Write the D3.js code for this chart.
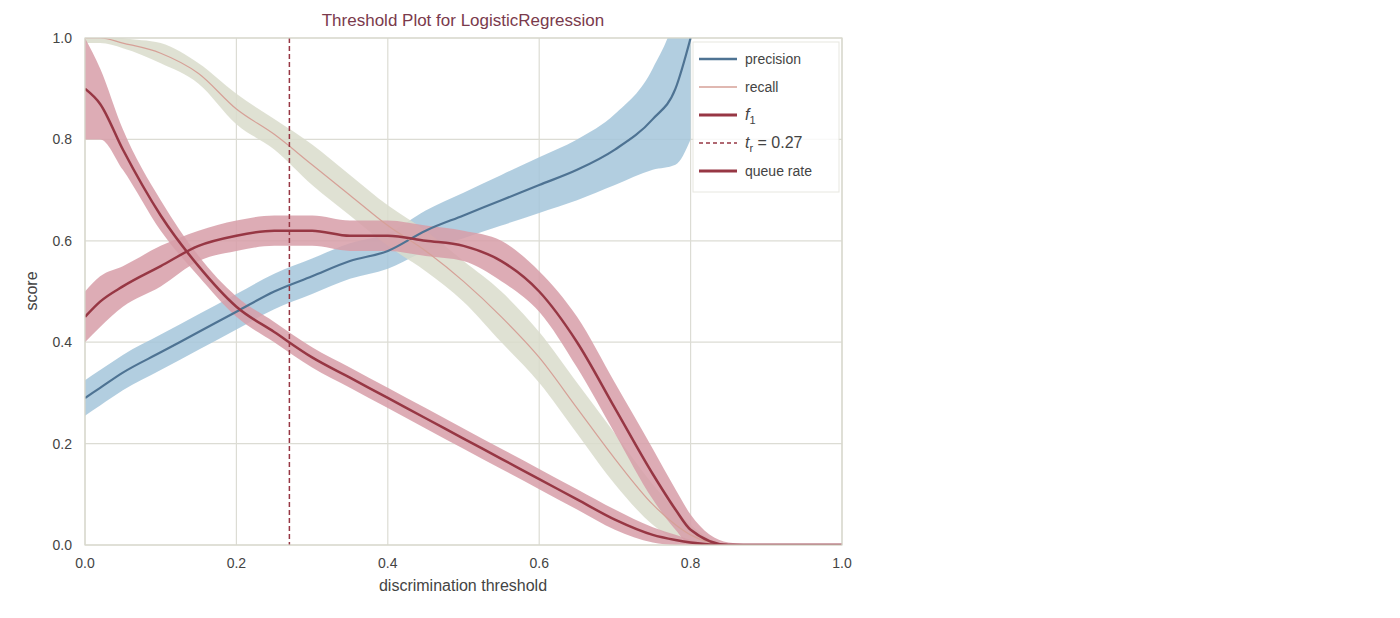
<!DOCTYPE html>
<html><head><meta charset="utf-8">
<script src="https://cdn.jsdelivr.net/npm/d3@7"></script>
<style>body{margin:0;background:#fff;font-family:"Liberation Sans",Arial,sans-serif}</style>
</head><body>
<script>
const thresholds = [0,0.02,0.05,0.1,0.15,0.2,0.25,0.3,0.35,0.4,0.45,0.5,0.55,0.6,0.65,0.7,0.75,0.78,0.8,0.85,0.9,1.0];
const precision   = [0.29,0.31,0.34,0.38,0.42,0.46,0.50,0.53,0.56,0.58,0.62,0.65,0.68,0.71,0.74,0.78,0.84,0.90,1.0,null,null,null];
const precisionBand=[0.035,0.035,0.035,0.035,0.035,0.035,0.035,0.035,0.035,0.035,0.04,0.045,0.05,0.055,0.06,0.07,0.1,0.15,0.2,null,null,null];
const recall      = [1.0,1.0,0.99,0.97,0.93,0.86,0.81,0.75,0.69,0.63,0.58,0.52,0.45,0.37,0.27,0.17,0.08,0.04,0.02,0,0,0];
const recallBand  = [0.01,0.01,0.01,0.02,0.02,0.03,0.03,0.04,0.04,0.04,0.04,0.04,0.05,0.05,0.05,0.05,0.04,0.03,0.02,0,0,0];
const f1          = [0.45,0.48,0.51,0.55,0.59,0.61,0.62,0.62,0.61,0.61,0.60,0.59,0.56,0.50,0.40,0.27,0.14,0.07,0.03,0,0,0];
const f1Band      = [0.05,0.05,0.04,0.04,0.03,0.03,0.03,0.03,0.03,0.03,0.03,0.03,0.04,0.04,0.05,0.05,0.05,0.04,0.03,0.005,0,0];
const queueRate   = [0.90,0.87,0.78,0.65,0.55,0.47,0.42,0.37,0.33,0.29,0.25,0.21,0.17,0.13,0.09,0.05,0.02,0.01,0.005,0,0,0];
const queueBand   = [0.10,0.07,0.04,0.03,0.02,0.02,0.02,0.02,0.02,0.02,0.02,0.02,0.02,0.02,0.02,0.02,0.015,0.01,0.005,0,0,0];
const xTicks = [0,0.2,0.4,0.6,0.8,1.0];
const yTicks = [0,0.2,0.4,0.6,0.8,1.0];
const chosenThreshold = 0.27;

const svg = d3.select("body").append("svg").attr("width",1400).attr("height",618);
const x = d3.scaleLinear().domain([0,1]).range([85,842]);
const y = d3.scaleLinear().domain([0,1]).range([545,38]);

// grid
svg.append("g").selectAll("line").data(xTicks).join("line")
  .attr("x1",d=>x(d)).attr("x2",d=>x(d)).attr("y1",38).attr("y2",545)
  .attr("stroke","#dcdcd4").attr("stroke-width",1.2);
svg.append("g").selectAll("line").data(yTicks).join("line")
  .attr("y1",d=>y(d)).attr("y2",d=>y(d)).attr("x1",85).attr("x2",842)
  .attr("stroke","#dcdcd4").attr("stroke-width",1.2);

svg.append("clipPath").attr("id","c").append("rect")
  .attr("x",85).attr("y",38).attr("width",757).attr("height",507);
const plot = svg.append("g").attr("clip-path","url(#c)");

function series(vals, band, fill, stroke, width){
  const pts = thresholds.map((t,i)=>({t,v:vals[i],b:band[i]})).filter(d=>d.v!==null);
  plot.append("path").datum(pts)
    .attr("d", d3.area().x(d=>x(d.t)).y0(d=>y(d.v-d.b)).y1(d=>y(d.v+d.b)).curve(d3.curveMonotoneX))
    .attr("fill",fill).attr("opacity",0.85);
  return ()=>plot.append("path").datum(pts)
    .attr("d", d3.line().x(d=>x(d.t)).y(d=>y(d.v)).curve(d3.curveMonotoneX))
    .attr("fill","none").attr("stroke",stroke).attr("stroke-width",width);
}
const lines = [
  series(precision,precisionBand,"#a4c6da","#4e7393",2.2),
  series(recall,recallBand,"#d9dccb","#d6a097",1.2),
  series(f1,f1Band,"#d79ea8","#973744",2.5),
  series(queueRate,queueBand,"#d79ea8","#973744",2.5)
];
lines.forEach(f=>f());

plot.append("line").attr("x1",x(chosenThreshold)).attr("x2",x(chosenThreshold))
  .attr("y1",38).attr("y2",545).attr("stroke","#973744").attr("stroke-width",1.5)
  .attr("stroke-dasharray","5,3");

// frame
svg.append("rect").attr("x",85).attr("y",38).attr("width",757).attr("height",507)
  .attr("fill","none").attr("stroke","#d8d8cc").attr("stroke-width",1.2);

// ticks
svg.append("g").selectAll("text").data(xTicks).join("text")
  .attr("x",d=>x(d)).attr("y",568).attr("text-anchor","middle")
  .attr("font-size",14).attr("fill","#444").text(d=>d.toFixed(1));
svg.append("g").selectAll("text").data(yTicks).join("text")
  .attr("x",72).attr("y",d=>y(d)+5).attr("text-anchor","end")
  .attr("font-size",14).attr("fill","#444").text(d=>d.toFixed(1));

svg.append("text").attr("x",463).attr("y",591).attr("text-anchor","middle")
  .attr("font-size",16).attr("fill","#444").text("discrimination threshold");
svg.append("text").attr("transform","translate(37,291) rotate(-90)").attr("text-anchor","middle")
  .attr("font-size",16).attr("fill","#444").text("score");
svg.append("text").attr("x",463).attr("y",26).attr("text-anchor","middle")
  .attr("font-size",17).attr("fill","#7a3a4c").text("Threshold Plot for LogisticRegression");

// legend
const lg = svg.append("g").attr("transform","translate(693,42)");
lg.append("rect").attr("width",146).attr("height",150).attr("fill","#fff").attr("opacity",0.85)
  .attr("stroke","#e4e4dc");
const items = [
  {label:"precision",c:"#4e7393",w:2.5},
  {label:"recall",c:"#d6a097",w:1.5},
  {label:"f",sub:"1",c:"#973744",w:2.8,italic:true},
  {label:"t",sub:"r",rest:" = 0.27",c:"#973744",w:1.5,dash:"4,3",italic:true},
  {label:"queue rate",c:"#973744",w:2.8}
];
items.forEach((d,i)=>{
  const yy = 17+i*28;
  lg.append("line").attr("x1",6).attr("x2",44).attr("y1",yy).attr("y2",yy)
    .attr("stroke",d.c).attr("stroke-width",d.w).attr("stroke-dasharray",d.dash||null);
  const t = lg.append("text").attr("x",52).attr("y",yy+5).attr("font-size",d.italic?16:14).attr("fill","#444");
  t.append("tspan").attr("font-style",d.italic?"italic":null).text(d.label);
  if(d.sub) t.append("tspan").attr("font-size",11).attr("dy",4).text(d.sub);
  if(d.rest) t.append("tspan").attr("dy",-4).text(d.rest);
});
</script>
</body></html>
